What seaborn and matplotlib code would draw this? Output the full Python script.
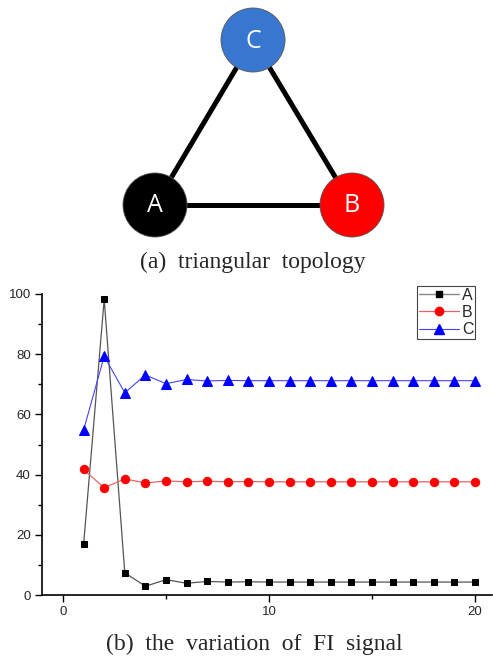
import numpy as np
import pandas as pd
import matplotlib
matplotlib.use("Agg")
import matplotlib.pyplot as plt
import seaborn as sns
from matplotlib.lines import Line2D
from matplotlib.patches import Rectangle
from matplotlib.ticker import MultipleLocator

# topology diagram (pixel positions in the 493x656 figure)
nodes = ["A", "B", "C"]
node_x = [155, 352, 253]
node_y = [205, 205, 40]
node_colors = ["#000000", "#ff0000", "#3877cf"]
edges = [("A", "B"), ("B", "C"), ("C", "A")]

# FI signal per iteration
steps = list(range(1, 21))
fi_a = [16.8, 98.2, 7.4, 2.9, 5.1, 3.9, 4.5, 4.3, 4.4, 4.3, 4.3, 4.3, 4.3, 4.3, 4.3, 4.3, 4.3, 4.3, 4.3, 4.3]
fi_b = [41.7, 35.6, 38.6, 37.2, 37.9, 37.6, 37.8, 37.6, 37.7, 37.6, 37.6, 37.6, 37.6, 37.6, 37.6, 37.6, 37.6, 37.6, 37.6, 37.6]
fi_c = [54.8, 79.3, 67.2, 73.1, 70.2, 71.6, 71.1, 71.3, 71.2, 71.2, 71.2, 71.2, 71.2, 71.2, 71.2, 71.2, 71.2, 71.2, 71.2, 71.2]

sns.set_style("ticks")
plt.rcParams["font.family"] = ["Liberation Sans", "DejaVu Sans"]

W, H = 493, 656
fig = plt.figure(figsize=(W / 100, H / 100), dpi=100)

# overlay axes in pixel coordinates for the diagram and captions
ax0 = fig.add_axes([0, 0, 1, 1])

pos = {n: (x, y) for n, x, y in zip(nodes, node_x, node_y)}
for a, b in edges:
    ax0.plot([pos[a][0], pos[b][0]], [pos[a][1], pos[b][1]], color="black", lw=3.6, zorder=1,
             solid_capstyle="butt")

nodes_df = pd.DataFrame({"node": nodes, "x": node_x, "y": node_y})
sns.scatterplot(data=nodes_df, x="x", y="y", hue="node", palette=dict(zip(nodes, node_colors)),
                s=2125, edgecolor="#555555", linewidth=0.6, legend=False, ax=ax0, zorder=2)
for n, x, y in zip(nodes, node_x, node_y):
    ax0.text(x, y + 1, n, color="white", ha="center", va="center", fontsize=18,
             family=["Open Sans", "DejaVu Sans"], zorder=3)
ax0.set_xlim(0, W)
ax0.set_ylim(H, 0)
ax0.axis("off")

ax0.text(253, 262, "(a)  triangular  topology", ha="center", va="center", fontsize=17,
         family=["Liberation Serif", "DejaVu Serif"])
ax0.text(254, 644, "(b)  the  variation  of  FI  signal", ha="center", va="center", fontsize=17,
         family=["Liberation Serif", "DejaVu Serif"])

# line chart
ax = fig.add_axes([42 / W, 1 - 595 / H, (492 - 42) / W, (595 - 294) / H])
sns.lineplot(x=steps, y=fi_a, color="#555555", lw=0.9, marker="s", markersize=5,
             markerfacecolor="black", markeredgecolor="black", ax=ax)
sns.lineplot(x=steps, y=fi_b, color="#e06666", lw=0.9, marker="o", markersize=6,
             markerfacecolor="#ff0000", markeredgecolor="#ff0000", ax=ax)
sns.lineplot(x=steps, y=fi_c, color="#4444ee", lw=0.8, marker="^", markersize=7,
             markerfacecolor="#0000ff", markeredgecolor="#0000ff", ax=ax)

ax.set_xlim(-1.02, 20.83)
ax.set_ylim(0, 100)
ax.xaxis.set_major_locator(MultipleLocator(10))
ax.xaxis.set_minor_locator(MultipleLocator(5))
ax.yaxis.set_major_locator(MultipleLocator(20))
ax.yaxis.set_minor_locator(MultipleLocator(10))
ax.tick_params(which="major", length=5, width=1, labelsize=9.5, color="black", pad=3)
ax.tick_params(which="minor", length=3, width=1, color="black")
ax.set_xticks([0, 10, 20])
ax.set_xticklabels(["0", "10", "20"])
for s in ["left", "bottom"]:
    ax.spines[s].set_linewidth(1.2)
    ax.spines[s].set_color("black")
sns.despine(ax=ax)

handles = [
    Line2D([], [], color="#888888", lw=1, marker="s", markersize=5, mfc="black", mec="black"),
    Line2D([], [], color="#e06666", lw=0.9, marker="o", markersize=6, mfc="#ff0000", mec="#ff0000"),
    Line2D([], [], color="#4444ee", lw=0.8, marker="^", markersize=7, mfc="#0000ff", mec="#0000ff"),
]
leg = fig.legend(handles, ["A", "B", "C"], loc="upper right", bbox_to_anchor=(475 / W, 1 - 286 / H),
                 fontsize=11.5, frameon=True, fancybox=False, framealpha=1, edgecolor="#444444",
                 handlelength=2.5, handletextpad=0.2, borderpad=0.1, labelspacing=0.15,
                 borderaxespad=0)
leg.get_frame().set_linewidth(0.8)

# selection box around first legend entry
ax0.add_patch(Rectangle((419, 286.5), 38, 16.5, fill=False, edgecolor="#d04040", lw=0.8, zorder=5))

fig.savefig("out.png", dpi=100)
